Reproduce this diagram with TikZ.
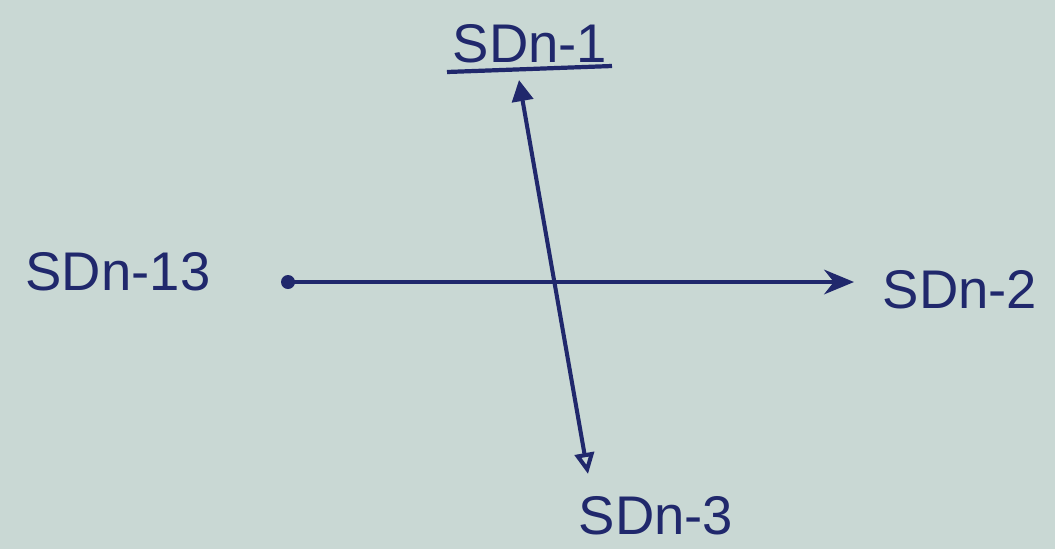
\documentclass[tikz,border=0pt]{standalone}
\usepackage{fontspec}
\setsansfont{Liberation Sans}
\usetikzlibrary{arrows.meta}
\definecolor{paper}{RGB}{201,216,212}
\definecolor{ink}{RGB}{32,40,108}

\begin{document}
\begin{tikzpicture}[x=0.02cm,y=-0.02cm,>=Stealth,every node/.style={font=\sffamily\fontsize{31}{36}\selectfont,text=ink,inner sep=0pt}]
		\fill[paper](0,0)rectangle(1055,549);
		
		\coordinate (N)at(519,80);
		\coordinate (S)at(588,474);
		\coordinate (W)at(288,282);
		\coordinate (E)at(854,282);
		
		\node (sd1)at(530,44){SDn-1};
		\node (sd13)at(118,272){SDn-13};
		\node (sd2)at(960,290){SDn-2};
		\node (sd3)at(656,516){SDn-3};
		
		\draw[line width=2.4pt,ink](447,72)--(612,66);
		\draw[line width=2.3pt,ink,{Triangle[length=12pt,width=12pt]}-{Triangle[open,length=12pt,width=11pt]}](N)--(S);
		\draw[line width=2.2pt,ink,-{Stealth[length=17pt,width=14pt]}](W)--(E);
		\fill[ink](W)circle(7);
	\end{tikzpicture}
\end{document}
